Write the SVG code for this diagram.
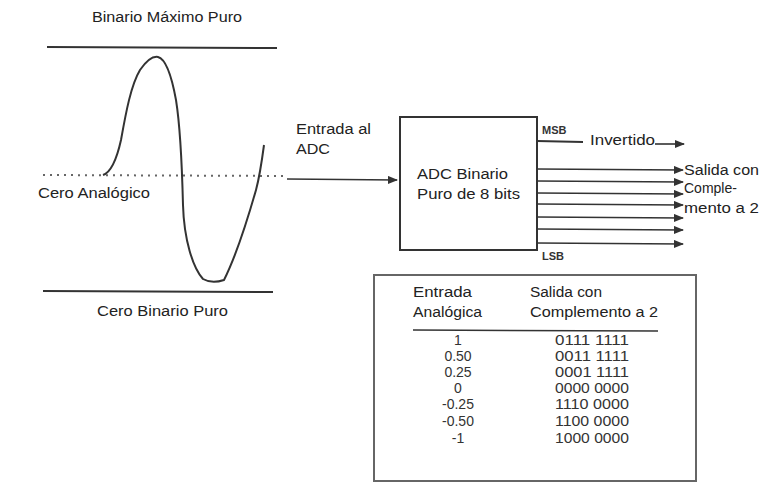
<svg xmlns="http://www.w3.org/2000/svg" width="759" height="488" viewBox="0 0 759 488">
<style>
text{font-family:"Liberation Sans",Arial,sans-serif;fill:#222;}
.t{font-size:14px;}
.s{font-size:11px;font-weight:bold;fill:#333;}
.tb{font-size:14px;text-anchor:middle;fill:#333;}
.ln{stroke:#333;stroke-width:2;fill:none;}
.ar{stroke:#333;stroke-width:1.6;fill:none;marker-end:url(#ah);}
</style>
<defs>
<marker id="ah" markerWidth="10" markerHeight="8" refX="9" refY="4" orient="auto" markerUnits="userSpaceOnUse">
<path d="M0,0 L10,4 L0,8 Z" fill="#333"/>
</marker>
</defs>
<rect width="759" height="488" fill="#fff"/>
<g id="waveform">
<text class="t" x="92" y="22" textLength="150" lengthAdjust="spacingAndGlyphs">Binario Máximo Puro</text>
<line class="ln" x1="47" y1="47" x2="277" y2="48"/>
<line x1="43" y1="175" x2="288" y2="176" stroke="#666" stroke-width="2" stroke-dasharray="2 5"/>
<text class="t" x="38" y="198" textLength="112" lengthAdjust="spacingAndGlyphs">Cero Analógico</text>
<path class="ln" d="M103,175 C112,172 117,158 121,140 C126,112 131,85 140,70 C147,60 153,56 158,57 C166,59 172,78 176,100 C180,125 182,165 183,205 C184,240 193,268 203,279 C210,283 218,282 224,280 C234,260 246,225 256,190 C260,175 262,160 264,145"/>
<line class="ln" x1="43" y1="291" x2="273" y2="292"/>
<text class="t" x="97" y="316" textLength="131" lengthAdjust="spacingAndGlyphs">Cero Binario Puro</text>
</g>
<g id="adc">
<rect x="400" y="117" width="137" height="133" fill="none" stroke="#333" stroke-width="2"/>
<text class="t" x="417" y="179" textLength="91" lengthAdjust="spacingAndGlyphs">ADC Binario</text>
<text class="t" x="417" y="199" textLength="103" lengthAdjust="spacingAndGlyphs">Puro de 8 bits</text>
</g>
<g id="input-label">
<text class="t" x="296" y="134" textLength="75" lengthAdjust="spacingAndGlyphs">Entrada al</text>
<text class="t" x="296" y="154" textLength="34" lengthAdjust="spacingAndGlyphs">ADC</text>
</g>
<g id="output-label">
<text class="t" x="684" y="175" textLength="75" lengthAdjust="spacingAndGlyphs">Salida con</text>
<text class="t" x="684" y="193">Comple-</text>
<text class="t" x="684" y="213" textLength="75" lengthAdjust="spacingAndGlyphs">mento a 2</text>
</g>
<g id="bit-labels">
<text class="s" x="542" y="134">MSB</text>
<text class="s" x="542" y="260">LSB</text>
<text class="t" x="590" y="145" textLength="65" lengthAdjust="spacingAndGlyphs">Invertido</text>
</g>
<g id="connectors">
<line class="ar" x1="287" y1="179" x2="397" y2="180"/>
<line class="ln" x1="537" y1="141" x2="583" y2="142" stroke-width="1.6"/>
<line class="ar" x1="655" y1="144" x2="684" y2="144"/>
<line class="ar" x1="537" y1="169" x2="683" y2="170"/>
<line class="ar" x1="537" y1="181" x2="683" y2="182"/>
<line class="ar" x1="537" y1="193" x2="683" y2="194"/>
<line class="ar" x1="537" y1="204" x2="683" y2="205"/>
<line class="ar" x1="537" y1="217" x2="683" y2="218"/>
<line class="ar" x1="537" y1="229" x2="683" y2="230"/>
<line class="ar" x1="537" y1="243" x2="683" y2="244"/>
</g>
<g id="table">
<rect x="374" y="275" width="322" height="206" fill="none" stroke="#666" stroke-width="2"/>
<text class="t" x="413" y="297" textLength="59" lengthAdjust="spacingAndGlyphs">Entrada</text>
<text class="t" x="413" y="317" textLength="69" lengthAdjust="spacingAndGlyphs">Analógica</text>
<text class="t" x="530" y="297" textLength="72" lengthAdjust="spacingAndGlyphs">Salida con</text>
<text class="t" x="530" y="317" textLength="128" lengthAdjust="spacingAndGlyphs">Complemento a 2</text>
<line x1="413" y1="330" x2="658" y2="331" stroke="#333" stroke-width="1.5"/>
<text class="tb" x="458" y="345">1</text>
<text class="tb" x="458" y="361">0.50</text>
<text class="tb" x="458" y="377">0.25</text>
<text class="tb" x="458" y="393">0</text>
<text class="tb" x="458" y="409">-0.25</text>
<text class="tb" x="458" y="426">-0.50</text>
<text class="tb" x="458" y="443">-1</text>
<text class="tb" x="592" y="345" textLength="74" lengthAdjust="spacingAndGlyphs">0111 1111</text>
<text class="tb" x="592" y="361" textLength="74" lengthAdjust="spacingAndGlyphs">0011 1111</text>
<text class="tb" x="592" y="377" textLength="74" lengthAdjust="spacingAndGlyphs">0001 1111</text>
<text class="tb" x="592" y="393" textLength="74" lengthAdjust="spacingAndGlyphs">0000 0000</text>
<text class="tb" x="592" y="409" textLength="74" lengthAdjust="spacingAndGlyphs">1110 0000</text>
<text class="tb" x="592" y="426" textLength="74" lengthAdjust="spacingAndGlyphs">1100 0000</text>
<text class="tb" x="592" y="443" textLength="74" lengthAdjust="spacingAndGlyphs">1000 0000</text>
</g>
</svg>
